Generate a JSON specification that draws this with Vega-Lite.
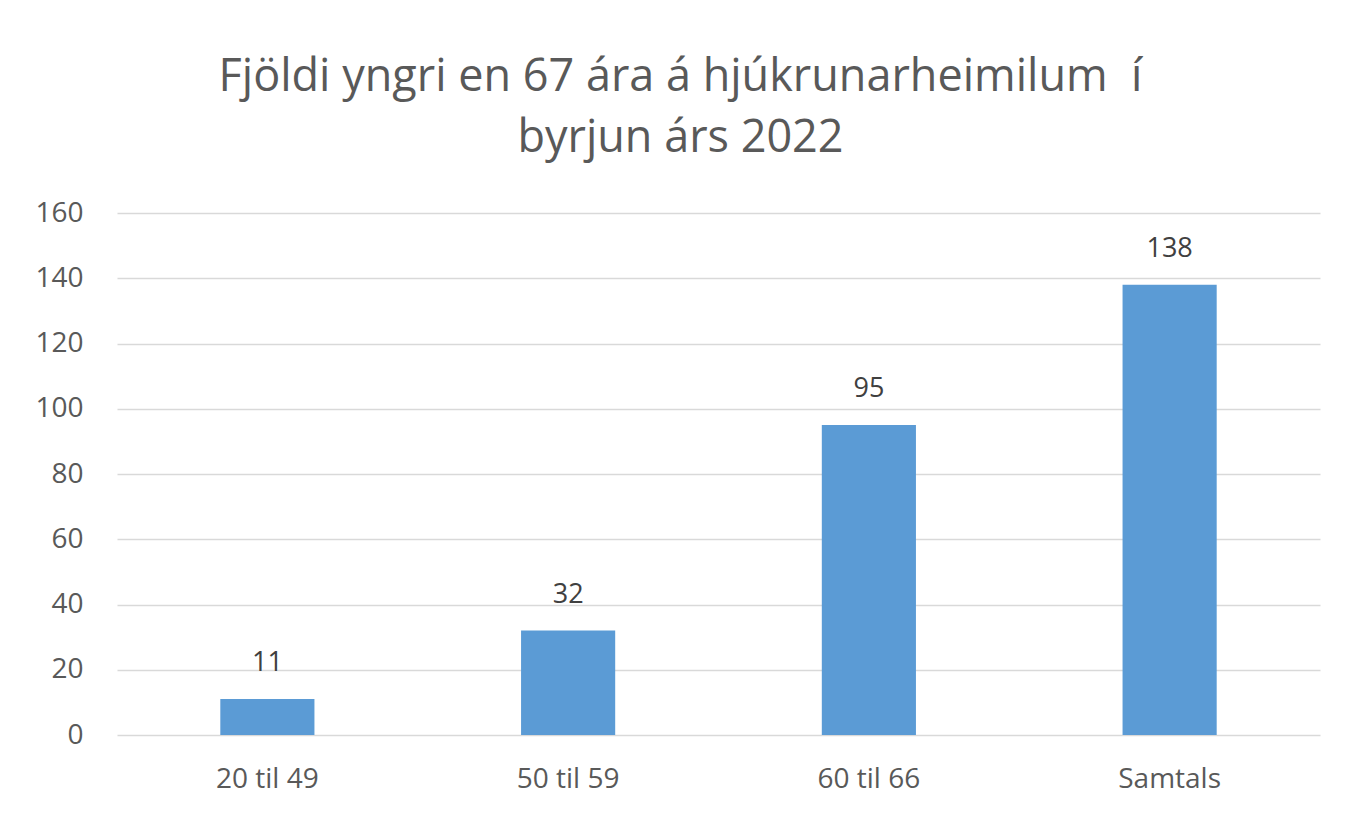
{
  "$schema": "https://vega.github.io/schema/vega-lite/v6.json",
  "autosize": {"type": "none"},
  "width": 1203,
  "height": 522,
  "padding": {"left": 117, "top": 213, "right": 28, "bottom": 82},
  "background": "white",
  "title": {
    "text": ["Fjöldi yngri en 67 ára á hjúkrunarheimilum\u00a0 í", "byrjun árs 2022"],
    "font": "Open Sans",
    "fontSize": 45,
    "fontWeight": "normal",
    "color": "#595959",
    "lineHeight": 61,
    "anchor": "middle",
    "frame": "group",
    "dx": -38,
    "offset": 38
  },
  "data": {
    "values": [
      {"group": "20 til 49", "count": 11},
      {"group": "50 til 59", "count": 32},
      {"group": "60 til 66", "count": 95},
      {"group": "Samtals", "count": 138}
    ]
  },
  "encoding": {
    "x": {
      "field": "group",
      "type": "nominal",
      "sort": null,
      "scale": {"paddingInner": 0.687, "paddingOuter": 0.3435},
      "axis": {
        "title": null,
        "labelAngle": 0,
        "labelFont": "Open Sans",
        "labelFontSize": 28,
        "labelColor": "#595959",
        "labelPadding": 30,
        "ticks": false,
        "domain": false
      }
    },
    "y": {
      "field": "count",
      "type": "quantitative",
      "scale": {"domain": [0, 160]},
      "axis": {
        "title": null,
        "values": [0, 20, 40, 60, 80, 100, 120, 140, 160],
        "labelFont": "Open Sans",
        "labelFontSize": 28,
        "labelColor": "#595959",
        "labelPadding": 34,
        "ticks": false,
        "domain": false,
        "gridColor": "#D9D9D9",
        "gridWidth": 1.5
      }
    }
  },
  "layer": [
    {"mark": {"type": "bar", "color": "#5B9BD5"}},
    {
      "mark": {
        "type": "text",
        "baseline": "alphabetic",
        "dy": -28,
        "font": "Open Sans",
        "fontSize": 27,
        "color": "#404040"
      },
      "encoding": {"text": {"field": "count", "type": "quantitative"}}
    }
  ],
  "config": {"view": {"stroke": null}}
}
